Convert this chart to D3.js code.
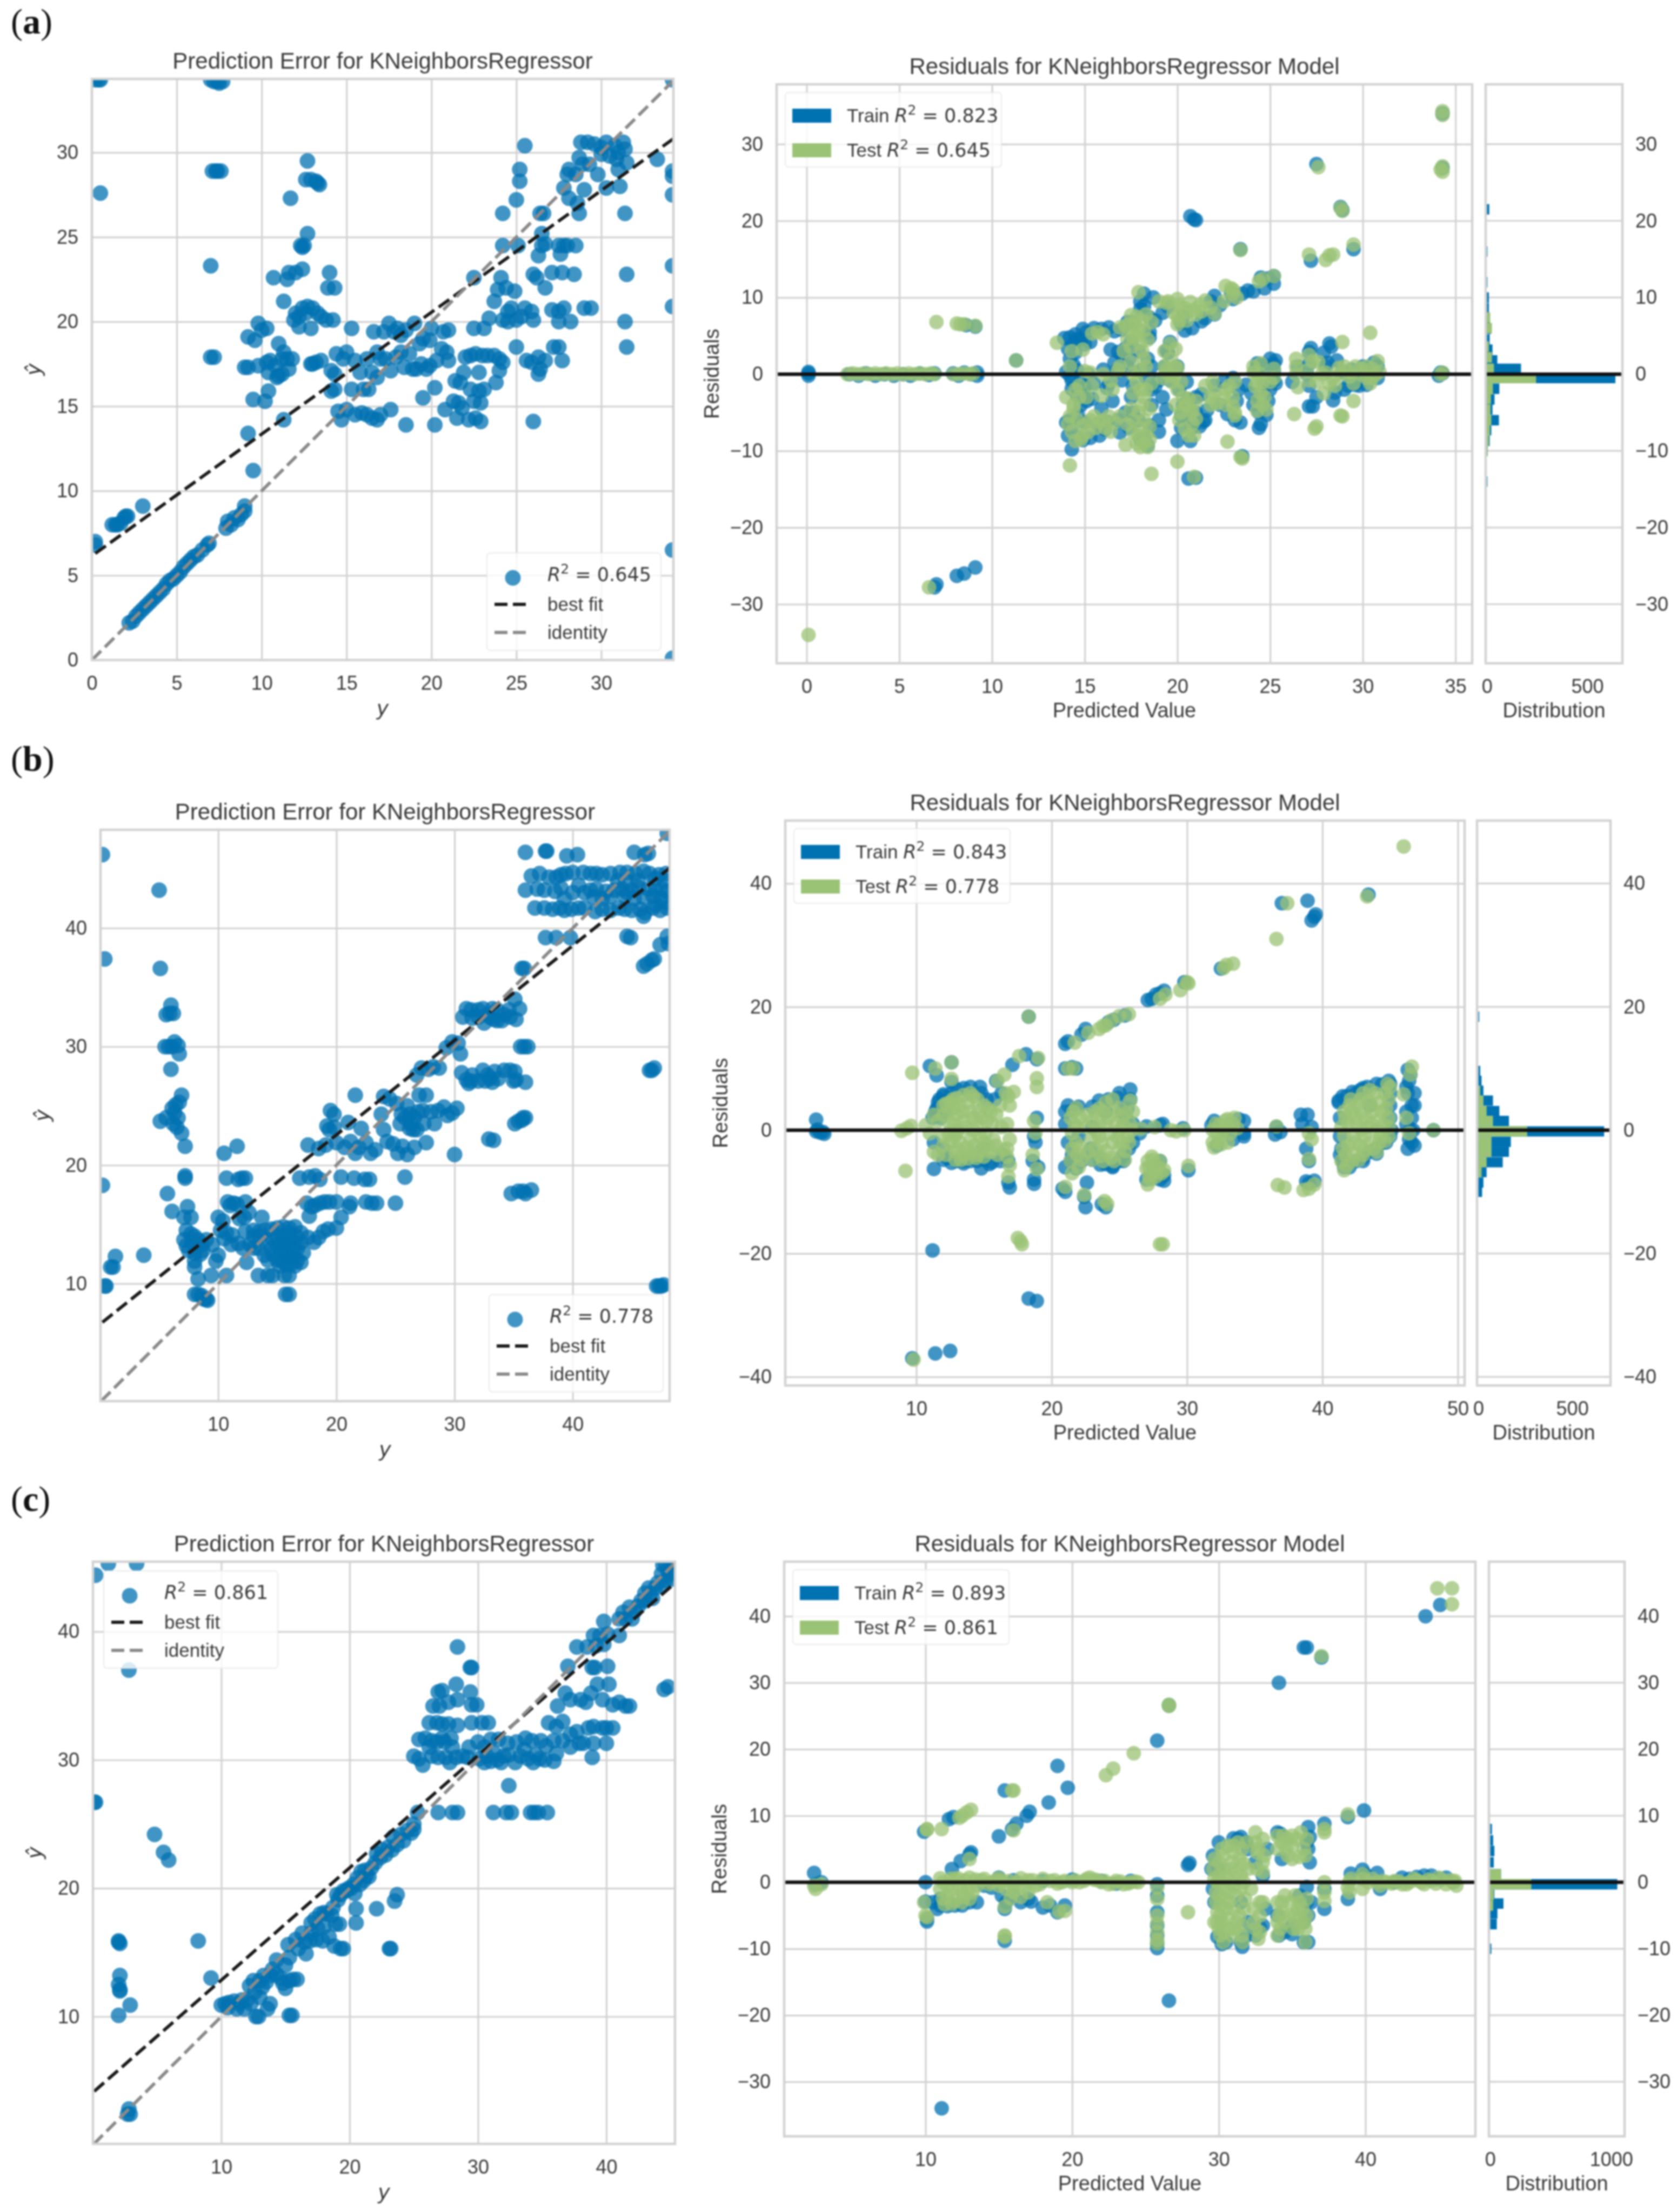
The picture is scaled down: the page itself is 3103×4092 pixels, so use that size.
<!DOCTYPE html>
<html>
<head>
<meta charset="utf-8">
<script src="https://cdn.jsdelivr.net/npm/d3@7"></script>
<style>
	body { margin: 0; background: #fff; }
	svg { display: block; filter: blur(1.5px); }
	text { font-family: "Liberation Sans", Arial, sans-serif; fill: #3a3a3a; }
	.math { font-family: "DejaVu Sans", sans-serif; }
</style>
</head>
<body>
<div id="chart"></div>
<script>
// ---- data: [y, y-hat] for prediction error, [predicted, residual] for residuals
var errorA = [[0.2,34.3],[0.4,34.3],[0.5,34.3],[7.0,34.3],[7.2,34.2],[7.4,34.2],[7.5,34.1],[7.7,34.2],[34.2,34.3],[0.5,27.6],[7.1,28.9],[7.3,28.9],[7.4,28.9],[7.6,28.9],[12.7,29.5],[12.6,28.4],[12.9,28.4],[13.2,28.3],[13.3,28.2],[13.4,28.1],[11.7,27.3],[12.7,25.2],[12.3,24.5],[12.5,24.5],[12.4,24.4],[7.0,23.3],[10.7,22.6],[11.5,22.5],[11.6,22.9],[12.0,22.9],[12.4,23.1],[14.0,22.9],[13.9,22.0],[14.3,22.0],[11.3,21.2],[12.0,20.5],[12.2,20.3],[12.4,20.8],[12.6,20.5],[12.7,20.9],[13.0,20.8],[13.3,20.5],[13.5,20.3],[13.8,20.1],[14.2,20.1],[11.9,20.1],[12.2,19.7],[12.9,19.6],[9.2,19.1],[9.6,18.9],[9.8,19.9],[10.0,19.5],[10.3,19.6],[7.0,17.9],[7.2,17.9],[9.0,17.3],[9.2,17.3],[9.8,17.4],[10.3,17.6],[10.5,17.7],[10.4,17.0],[10.8,17.4],[11.0,18.7],[11.3,18.2],[11.2,17.8],[11.5,17.8],[11.8,17.8],[11.0,16.8],[11.2,16.9],[11.6,17.2],[10.9,16.7],[13.0,17.5],[13.2,17.6],[13.5,17.7],[12.9,17.5],[9.5,15.4],[10.2,15.3],[10.4,15.9],[11.3,14.2],[9.2,13.4],[9.5,11.2],[14.1,17.1],[14.3,16.9],[14.4,18.1],[14.8,17.8],[15.0,18.2],[14.5,14.7],[14.7,14.2],[15.0,14.8],[14.1,15.9],[14.3,16.0],[15.3,19.6],[15.3,16.0],[15.5,17.7],[15.8,17.0],[16.0,16.0],[16.3,16.0],[16.5,17.0],[16.8,16.7],[16.2,17.8],[15.5,14.5],[15.9,14.6],[16.2,14.5],[16.5,14.3],[16.8,14.2],[17.0,14.5],[17.6,14.8],[16.6,19.4],[17.2,19.4],[17.5,19.9],[17.8,19.4],[18.0,19.6],[18.2,19.2],[18.5,19.5],[19.0,19.9],[19.5,19.0],[20.0,19.6],[19.3,18.7],[19.9,18.9],[16.8,18.2],[17.0,17.8],[17.3,17.8],[17.6,17.1],[17.9,17.9],[18.2,18.2],[18.4,17.3],[18.7,18.1],[18.9,17.2],[19.1,17.2],[19.4,17.5],[19.7,17.2],[19.9,17.4],[20.3,17.7],[20.6,18.4],[20.9,18.2],[21.0,17.7],[18.5,13.9],[19.5,15.5],[20.2,13.9],[20.2,16.1],[20.7,19.4],[21,19.5],[20.8,14.8],[21.5,14.3],[21.6,15.2],[21.3,15.3],[21.8,14.9],[21.4,16.5],[21.7,16.4],[22.0,17.9],[22.3,18.0],[22.6,18.1],[21.9,17.0],[22.5,19.6],[22.3,16.0],[22.5,15.3],[22.2,14.2],[22.6,14.3],[22.9,14.1],[22.8,15.9],[23.1,16.0],[22.8,17.0],[23.0,18.0],[23.3,18.0],[23.7,18.0],[24.0,17.8],[24.2,17.6],[24.0,17.1],[23.8,16.4],[22.9,15.2],[23.1,19.6],[23.4,20.2],[23.7,21.2],[23.9,21.9],[24.1,22.6],[24.4,22.0],[22.5,22.6],[24.2,20.1],[24.5,20.6],[24.5,20.0],[24.7,20.8],[25.0,20.1],[25.3,20.3],[25.5,20.8],[25.9,20.6],[26.0,20.1],[24.9,21.8],[24.2,24.5],[24.2,26.4],[25.0,27.2],[25.2,28.3],[25.2,29.0],[25.5,30.4],[25.1,24.5],[25.0,18.5],[25.6,17.7],[25.9,17.6],[26.3,17.9],[26.4,17.2],[26.3,16.9],[26.7,17.7],[26.0,14.1],[26.0,22.8],[26.2,22.6],[26.3,23.9],[26.5,24.5],[26.7,24.6],[26.5,25.2],[26.4,26.4],[26.6,26.4],[26.7,22.0],[27.1,22.9],[27.7,22.9],[27.5,24.5],[27.8,24.5],[28.0,24.5],[28.5,24.5],[27.6,24.0],[28.4,22.8],[27.1,20.7],[27.5,20.6],[27.8,20.8],[27.5,20.0],[28.2,20.0],[27.2,18.5],[27.5,18.5],[27.7,17.7],[27.8,27.9],[28.1,27.3],[28.6,27.0],[28.7,26.4],[29.0,27.8],[28.5,28.7],[28.0,28.7],[28.1,29.0],[28.7,29.7],[28.9,29.3],[29.3,29.3],[28.8,30.6],[29.2,30.6],[29.6,30.5],[30.0,30.3],[30.3,30.6],[30.0,29.9],[30.8,30.4],[31.0,30.0],[31.3,30.6],[31.4,30.2],[30.5,29.8],[30.9,29.6],[31.0,29.0],[31.5,29.4],[31.1,28.0],[29.8,28.7],[30.3,27.9],[31.4,26.4],[31.5,22.8],[31.4,20.0],[31.5,18.5],[29.0,20.8],[29.4,20.8],[33.3,29.6],[34.2,28.9],[34.2,28.6],[34.2,27.5],[34.2,23.3],[34.2,20.9],[34.2,6.5],[34.2,0.1],[0.2,7.0],[0.2,6.8],[1.2,8.0],[1.4,8.0],[1.5,8.0],[1.7,8.1],[1.9,8.4],[2.0,8.5],[2.1,8.5],[3.0,9.1],[2.2,2.2],[2.4,2.3],[2.6,2.6],[2.8,2.8],[3.0,3.0],[3.2,3.2],[3.4,3.4],[3.6,3.6],[3.8,3.8],[4.0,4.0],[4.2,4.2],[4.4,4.5],[4.6,4.7],[4.8,4.8],[5.0,5.0],[5.2,5.2],[5.4,5.5],[5.6,5.7],[5.8,5.9],[6.0,6.1],[6.2,6.2],[6.5,6.5],[6.8,6.8],[6.9,6.9],[7.9,7.8],[8.0,8.2],[8.2,8.0],[8.4,8.4],[8.6,8.3],[8.8,8.6],[9.0,8.8],[9.0,9.1]];
var errorB = [[36,46.4],[37.7,46.5],[37.8,46.5],[39.5,46.1],[40.4,46.2],[45.2,46.4],[46.1,46.2],[46.4,46.3],[36.5,44.4],[37.2,44.6],[38,44.3],[38.6,44.3],[39,44.5],[39.4,44.6],[40,44.7],[40.9,44.7],[41.5,44.6],[42,44.6],[42.5,44.5],[43.2,44.6],[44,44.7],[44.6,44.7],[45.3,44.6],[46,44.8],[46.5,44.6],[47.3,44.5],[47.9,44.6],[36,43.2],[37,43.3],[37.6,43.2],[38.5,43.1],[39,43.4],[41.5,43.2],[42,43.3],[42.8,43.1],[43.5,43.2],[44.2,43.3],[45,43.2],[45.6,43.4],[46.4,43.3],[47,43.2],[47.6,43.3],[48,43.1],[39.3,42.5],[41.8,42.6],[42.5,42.5],[43.2,42.7],[44.4,42.7],[45.2,42.5],[46,42.6],[46.8,42.7],[47.5,42.5],[36.8,41.7],[37.6,41.7],[38.3,41.6],[38.9,41.7],[39.3,41.5],[39.9,41.6],[40.5,41.7],[41,41.7],[41.9,41.4],[42.5,41.6],[43.2,41.5],[43.9,41.7],[44.4,41.6],[45,41.5],[45.7,41.6],[46.1,41.3],[46.8,41.7],[47.4,41.5],[48,41.7],[37.7,39.2],[38.6,39.2],[39.8,39.2],[44.6,39.3],[44.9,39.2],[47.4,38.6],[48,39.3],[48.1,38.7],[46,36.8],[46.3,37],[46.7,37.3],[46.9,37.4],[35.7,36.6],[35.9,36.6],[46.5,28],[46.7,28],[46.9,28.2],[47.1,9.8],[47.3,9.8],[47.5,9.8],[47.7,9.9],[48,48],[0.2,46.2],[5,43.2],[0.4,37.4],[5.1,36.6],[6,33.5],[5.6,32.7],[5.9,32.8],[6.2,32.8],[5.5,30],[5.8,30],[6.1,30],[6.3,30.4],[6.6,30.1],[6.7,29.4],[6,28.1],[5.1,23.7],[5.6,24],[6.1,24.8],[6.4,25.1],[6.7,25.3],[6.9,25.9],[6.3,24.4],[6.6,24],[6.2,23.5],[6.5,23.2],[6.9,22.7],[7.2,21.6],[7.2,19.1],[7.2,18.9],[5.7,17.6],[6.1,16.1],[7.4,16.5],[7.1,15.6],[7.7,15.6],[7.3,14.5],[7.7,14.2],[8,14],[8.3,13.7],[7.1,13.7],[7.3,13.2],[7.5,12.8],[8,12.6],[8.6,13.3],[9,13.7],[8.5,12.5],[8,11.9],[8,11.4],[8.3,10.4],[9.4,10.7],[10.7,10.7],[9.8,11.9],[10,12.4],[8,9.1],[8.3,9.1],[8.6,9],[8.8,8.7],[9,8.7],[9.1,8.6],[0.2,18.3],[1.3,12.3],[0.9,11.4],[1.1,11.4],[0.4,9.8],[0.5,9.8],[3.7,12.4],[10.5,21],[11.6,21.6],[10.7,18.9],[11.7,18.8],[12,18.9],[12.3,18.9],[10.8,16.9],[11,16.6],[11.3,16.8],[11.6,16.7],[12.3,16.9],[10,15.6],[10.4,15.3],[10.2,14.5],[10.7,14.3],[11.2,14.1],[11.8,15.5],[12.2,15.6],[12.6,16],[13.7,15.6],[12.3,14.4],[13,14.5],[13.5,14.4],[14,14.5],[14.5,14.6],[15,14.7],[15.5,14.8],[16,14.7],[16.5,14.8],[17,14.3],[11.1,13.3],[11.7,13.4],[12.1,13],[12.4,11.8],[12.7,13.3],[13,13],[13.4,13],[13.9,12.4],[14.2,12],[14.6,13.8],[15,13.2],[15.3,12.8],[15.6,13.4],[16,13.6],[16.4,13.3],[16.7,13],[15,12],[15.4,11.9],[15.9,12.3],[16.3,12.2],[16.7,12],[17,13.5],[17.6,13.9],[18.1,13.5],[18.5,13.9],[18.9,14.4],[19.3,14.6],[20,14.7],[20.4,15.6],[17.7,15.7],[17.9,16.5],[13.4,10.7],[14.2,10.7],[14.6,10.7],[15.6,10.7],[16,10.7],[15.7,9.1],[16,9.1],[16.9,18.9],[17.7,19],[18.2,19.1],[18.6,18.8],[17.5,16.8],[18.2,16.6],[18.6,16.8],[19,16.9],[19.4,16.9],[20,16.9],[20.4,19],[21.2,16.8],[21.1,16.5],[21.5,18.9],[22.4,18.8],[22.8,18.8],[22.5,16.9],[23,16.8],[23.4,16.8],[25,16.8],[25.8,19],[17.6,21.7],[18.5,21.4],[19.1,21.7],[19.5,24.6],[19.8,24.3],[19.2,23.3],[19.4,23],[19.8,23.2],[20,21.9],[20.7,21.5],[21.6,25.9],[21,23.6],[21.2,22],[21.6,21],[21.9,21.5],[22.1,23.1],[22.5,21.9],[22.9,21],[23.3,21.3],[23.8,24.3],[24,23],[24.3,22],[24.8,21.8],[25.2,21],[25.6,21.6],[26,20.9],[26.6,21.5],[27.6,21.9],[24,25.8],[24.5,25.6],[25.1,25.2],[25.5,24.3],[26,25],[26.3,23.5],[26.6,24],[27,25.9],[27.3,24.6],[27.6,25.9],[28,24.5],[28.3,23.5],[28.6,24.6],[26.2,23.1],[26.8,23],[29.1,24.9],[29.4,24.2],[29.8,24.4],[30.2,24.8],[26.8,27.6],[27.2,28.2],[27.8,28.1],[28.2,28.3],[28.7,28.2],[29.3,29.9],[29.8,30.4],[30.3,30.3],[30.5,29.4],[30,20.9],[32.9,22.2],[33.3,22.1],[30.7,32.5],[31,33.2],[31.4,33.1],[32,33.1],[32.4,33.2],[32.8,32.7],[33.2,33.2],[33.6,33.1],[33.3,32.3],[34.2,32.7],[34.6,33.1],[35.1,34],[35.5,33.2],[35.2,32.3],[34.7,32.5],[33,32.5],[30.6,27.8],[31,27.2],[31.4,27.1],[32,27.1],[32.4,28],[32.6,27.1],[33,27.3],[33.4,27.9],[33.7,27.3],[34.2,28],[34.7,28],[35.1,27.9],[35,27.1],[35.2,27.2],[36,27],[35.6,30],[35.9,30],[36.2,30],[35.1,23.5],[35.4,23.7],[35.7,23.8],[35.8,24],[36,24],[34.8,17.6],[35.4,17.8],[35.8,17.8],[36,17.6],[36.5,17.9]];
var errorDenseB = [[13,14],[13.5,14],[14,13.6],[14.5,13],[15,14],[15.5,14],[16,14.3],[16.3,12.8],[14.6,12.5],[15.3,13.5],[15.7,12.7],[16.6,14],[17.2,12.6],[17,11.8],[16.5,11.5],[15.2,11.5],[15.8,11.6],[16.2,11.7],[9.5,13.3],[10.5,13.8],[8.7,12.8],[7.8,13.5],[41,43],[40.5,43.6],[40,43],[43.8,44],[44.5,44],[44.6,43],[45.5,44],[47,44.2],[46,41],[47,42],[47.8,44],[47.9,42.2],[26.5,23],[26.9,24.5],[27.4,23.5],[25.8,24],[26.2,24.3],[25.4,23.5],[31.5,32.4],[32,32.5],[32.5,32],[33.6,32.2],[34,32.2],[31.5,27.6],[32.8,27.6],[33.2,27],[31.2,26.9]];
var errorC = [[0.2,44.4],[1.2,45.3],[3.4,45.3],[2.8,37],[0.2,26.7],[0.1,26.7],[4.8,24.2],[5.5,22.8],[5.9,22.2],[2,15.8],[2,15.9],[2.1,15.7],[2.1,13.2],[2,12.5],[2.1,12.1],[2.1,12],[2,10.1],[2.9,10.9],[2.8,2.8],[2.7,2.4],[2.9,2.4],[8.2,15.9],[9.2,13],[10,10.9],[10.3,11],[10.6,11.1],[11,11.2],[11.4,11],[11.8,10.6],[12,11.3],[12.2,12.4],[12.5,12.8],[12.7,10],[12.9,10],[13,12.8],[13.3,13.2],[13.6,10.6],[13.8,11],[14,13.7],[14.3,14.4],[14.6,13],[14.8,12.6],[15,12.2],[15.3,12.8],[15.6,12.9],[15.9,12.9],[15.3,10.1],[15.5,10.1],[15.2,15.6],[15.8,16],[16.3,16.5],[16.6,14.9],[16.9,15.9],[17,17.3],[17.3,17.6],[17.7,18],[18,18.1],[17.4,16],[17.9,15.9],[18.4,16.2],[18.8,15.5],[18.9,17.2],[19.2,17.2],[19.3,15.3],[19.5,15.3],[18.7,18.5],[19,19.5],[19.5,19.8],[19.9,20],[20.3,20.3],[20.6,20.8],[20.9,21.3],[21.3,21],[21.7,21.6],[22.1,22.7],[22.5,23],[23,23.2],[23.4,24],[24,24.2],[24.5,24.5],[25,25],[20.5,18.4],[20.5,17.3],[22.1,18.4],[23.1,15.3],[23.2,15.3],[23.5,19],[23.7,19.5],[25.3,25.9],[26.9,25.9],[28,25.9],[28.4,25.9],[31.2,25.9],[32.2,25.9],[32.6,25.9],[34.1,25.9],[34.4,25.9],[34.7,25.9],[35.4,25.9],[32.4,28],[28.4,38.8],[29.4,37.2],[29.5,37.2],[26.9,35.3],[27.2,35.4],[26.5,34.2],[27,34.2],[27.7,34.5],[28.3,35.9],[28.4,34.7],[29.4,35.3],[29.5,34.3],[29.9,34.3],[26.2,32.9],[26.8,32.9],[27.2,32.8],[27.7,32.8],[28.4,32.7],[29.5,32.9],[30.3,32.9],[30.8,32.9],[25.4,31.6],[25.9,31.7],[26.4,31.5],[26.8,31.4],[27.4,31.4],[27.9,31.7],[29.3,31],[30,31.4],[30.5,31],[31,31.6],[31.6,31.6],[32.3,31.3],[33,31.4],[33.7,31.7],[34.2,31.5],[34.9,31.5],[35.3,31.1],[35.9,31.5],[25,30.3],[25.4,30.1],[25.7,29.6],[26.9,30.2],[27.5,30.2],[27.8,29.8],[28.3,30.2],[29.2,30.2],[30.1,30.1],[30.5,29.8],[31,29.9],[31.5,30],[31.8,29.8],[32.4,30.4],[32.9,29.8],[33.3,30.3],[33.9,30.1],[34.3,29.8],[34.8,30.1],[35.2,30],[35.9,29.9],[36.1,30.5],[35.5,32.9],[36.1,32.6],[36.6,33],[37.2,32],[37.7,32.2],[38.2,31.3],[38.6,32.5],[39,32.6],[39.7,32.5],[40,32.5],[40.5,32.5],[39,31.3],[40,31.3],[38.9,30.2],[36.6,31.5],[37.2,31],[37.9,31.3],[36.2,34.2],[36.8,35.2],[37.2,34.7],[38,34.7],[38.4,34.5],[38.8,35.2],[39.3,35.9],[39.7,34.7],[40.2,35.9],[40.5,34.3],[41,34.5],[41.5,34.2],[41.8,34.2],[37,37.3],[38.9,37.2],[39.1,37.2],[40.1,37.3],[37.7,38.8],[38.5,38.8],[39,39.7],[39.5,39.7],[39.2,38.9],[39.8,39],[40.1,39.8],[39.8,40.8],[41,39.7],[41,41],[41.3,41.5],[41.8,41.9],[42,41],[42.5,42],[43,43],[43.3,43.4],[43.6,42.6],[44,43.8],[44.3,44.5],[44.8,44.8],[45,45.2],[45.2,44.6],[44.6,45.3],[45.1,44.1],[44.5,35.5],[44.8,35.7]];
var errorDenseC = [[10.5,10.7],[11.2,10.6],[11.6,11.3],[12.3,11],[12.6,11.9],[13,11.5],[13.2,12.3],[13.5,12.7],[13.8,13.2],[14.3,13.3],[15,14],[15.3,14.6],[16,15.3],[16.5,15.8],[17,16.5],[17.5,16.9],[18,17],[18.2,18],[18.6,17.9],[19.1,19.1],[19.3,19.5],[19.7,19.8],[20.1,20],[20.4,19.6],[20.8,20.3],[21.1,20.6],[21.5,20.9],[21.2,21.4],[22,22],[22.4,22.4],[22.8,22.6],[23.3,23],[23.7,23.4],[24.2,23.7],[24.8,24.3],[25,24.6],[41.5,41],[42.2,41.6],[42.7,42.4],[43,42.4],[43.4,42.9],[43.8,43.4],[44.3,43.6],[44.6,44],[44.9,44.5],[45.2,45.3],[44.4,45.2],[28,31],[28.8,30.3],[30.7,30.3],[31.3,30.5],[32,30.3],[33.6,30.8],[34.5,30.4],[26.4,30.3],[26.2,31],[27.2,31.7]];

var trainA = [[0.1,0.1],[0.1,-0.2],[0.1,0.3],[2.3,0],[2.8,-0.2],[3.2,0.1],[3.7,-0.2],[4.2,0],[4.7,-0.2],[5.2,0],[5.6,-0.2],[6.1,0.1],[6.6,-0.1],[6.9,0.1],[7.9,0.1],[8.2,-0.2],[8.5,0.2],[8.9,0],[9.2,0.2],[9.2,-0.2],[9.1,6.2],[8.6,6.4],[7.0,-27.4],[6.9,-27.8],[8.1,-26.3],[8.5,-26],[9.1,-25.2],[11.3,1.8],[20.7,20.6],[20.9,20.2],[21.0,20.1],[27.5,27.4],[28.8,21.8],[28.9,21.4],[23.4,16.3],[27.2,14.8],[29.5,16.3],[24.5,12.6],[24.9,12.5],[25.2,12.8],[25.2,11.8],[24.7,11.2],[24.1,10.8],[22.0,10.2],[22.9,10.6],[23.0,9.8],[18.2,10.5],[18.0,9.5],[13.9,4.7],[14.1,3.3],[14.4,4.0],[14.5,2.8],[14.6,4.6],[14.9,5.9],[15.0,3.9],[15.3,4.2],[15.5,6.0],[15.9,5.9],[16.3,6.1],[16.6,5.6],[17.0,5.8],[17.3,6.8],[17.6,6.8],[18.0,8.5],[18.2,8.9],[18.5,7.4],[18.8,7.0],[18.5,5.5],[16.4,3.2],[16.8,2.9],[17.2,3.4],[17.5,4.3],[18.5,4.8],[19.6,4.2],[19.5,2.8],[19.4,3.1],[20.8,6.0],[21.3,6.9],[21.5,7.3],[22.0,7.8],[20.4,5.7],[20.2,6.6],[14.0,0.3],[14.3,-0.8],[14.3,-1.9],[14.6,-2.8],[15,-1.6],[15.2,0],[15.5,-1.2],[15.4,-3.2],[16.0,0.6],[16.3,-1.2],[16.7,0.4],[17.0,-0.8],[17.3,1.0],[17.6,-1.5],[18,0.5],[18.3,-0.5],[18.6,-2],[18.6,-4],[19,-0.8],[19.3,1],[19.6,-0.8],[20,1],[20.3,-4],[20.6,-6],[21,-3],[20.8,-7],[21.3,-2.6],[21.4,-6.2],[22,-1.5],[22.5,-1],[23,-0.5],[23.3,-2],[23.2,-3.5],[24.2,0.5],[24.4,1],[24.7,-1.5],[24.5,-3.3],[24.5,-6.5],[24.4,-7.0],[24.1,-4],[25.2,1.3],[25.2,0.5],[25.3,-1.2],[27.1,2.9],[27.1,1.3],[27.1,-1.5],[27.1,-4.2],[27.3,-4.2],[27.9,2.8],[28.3,3.6],[28.1,1.5],[28.6,1.8],[28.9,0.3],[29.2,-1.5],[29.6,-1.4],[30.0,-0.6],[30.4,0.4],[30.8,1],[30.8,-0.5],[30.0,1.0],[14.0,-6.3],[14.1,-8],[14.3,-9.8],[14.9,-8.6],[15.0,-6.3],[15.8,-8],[16.2,-6.2],[16.8,-6],[17.4,-7],[18.0,-8.5],[18.2,-8.3],[18.4,-9.3],[19,-6],[20,-8.7],[20.2,-7],[20.2,-5.4],[20.7,-8.7],[21.5,-6],[17.6,-5],[17.5,-3],[20.6,-13.6],[21,-13.5],[23.5,-10.7],[34.2,0.2],[34.1,-0.2],[34.3,0.1],[34.3,26.9],[34.3,34.0]];
var trainDenseA = [[14.2,4.8],[14.5,5.2],[14.8,4.5],[15.1,5.5],[14.2,2],[14.4,1.2],[14.6,0.5],[14.8,-0.5],[14.2,-0.2],[14.9,-2.2],[15.1,-3.5],[14.8,-4],[14.6,-5.2],[14.2,-6],[14.3,-7],[14.6,-8.2],[15.3,-8.3],[15.7,-6.6],[16.1,-7.2],[15.9,-4.5],[16.5,-3.5],[16.2,-1.8],[16.6,1.5],[17,2.5],[17.4,2],[17.9,3],[18.4,2],[18.6,1],[18.8,-1.6],[19.2,-3],[19.4,-4.6],[19.0,-7.5],[18.5,-6.7],[17.9,-6],[17.2,-5],[16.9,-7.6],[20.1,-2],[20.5,-1],[20.6,-3.3],[21,-5],[21.2,-6.8],[21.6,-4.7],[22.3,-4],[22.7,-5.2],[23.1,-6],[23.4,-6.3],[23.7,-1.4],[24,-2.5],[24.4,-5],[24.8,-5.3],[24.9,-3.5],[25,-2],[24.3,1.4],[24.7,1.2],[25,2],[25.3,1.8],[25.2,-0.8],[26.2,-1],[26.5,1],[27.2,3.4],[27,0],[27.5,-3],[28,1],[28.5,-2.4],[29,-2],[29.4,0.6],[29.8,-1.5],[30.2,-1.4],[30.6,1.5],[28.2,4],[28.4,-3.4],[18.7,10],[19.2,8],[19.5,8.8],[20.3,7.5],[21.8,9.5],[22.3,9],[23.5,10.5],[23.8,10.9]];
var testA = [[0.1,-34],[34.3,34.3],[34.3,33.8],[34.3,27.1],[34.2,26.7],[34.3,26.4],[27.6,27],[28.9,21.3],[28.8,21.7],[23.4,16.2],[27.1,15.6],[28.0,14.9],[28.2,15.5],[28.4,15.6],[29.5,16.9],[6.6,-27.8],[7.0,6.8],[8.1,6.6],[8.3,6.5],[8.5,6.5],[9.1,6.3],[2.2,0],[2.5,0.1],[2.8,0],[3.1,0.1],[3.4,0],[3.7,0.1],[4,0],[4.3,0.1],[4.6,0],[4.9,0.1],[5.2,0],[5.5,0.1],[5.8,0],[6.1,0.1],[6.4,0],[6.7,0.1],[6.9,0],[7.9,0],[8.2,0],[8.5,0.1],[8.8,0],[9.0,0.1],[11.3,1.8],[13.5,4.1],[14.3,3],[15.4,5.3],[15.7,5.5],[16,5.2],[16.9,6.1],[17.2,6.3],[17.4,6.5],[17.5,7.7],[17.8,7.5],[18.1,7.0],[18.3,7.8],[17.9,10.7],[19,9.5],[19.4,9.3],[20,9.8],[19.8,8],[20,7.6],[20.5,8.1],[20.9,8.4],[21.2,9.0],[21.5,9.6],[22,7.9],[20.1,7],[22.6,11.5],[22.9,11.2],[23,10.5],[24.4,12.1],[24.6,12.4],[25.2,12.8],[17.8,5],[18.0,4],[18.1,3],[18.2,2],[18.3,1],[17.6,0],[17.8,-1],[18,-2],[18.2,-3],[18.1,-4],[17.9,-5],[18.2,-6],[18.0,-7],[18.3,-8],[18.5,-8.5],[17.8,-9],[18,-9.5],[18.4,-9.5],[17.2,-9.2],[19.3,3],[19.6,2],[19.9,1],[19.5,0],[19.7,-1],[20,-2],[20.3,-3],[20.5,-4],[20.2,-5],[20.7,-5],[20.8,-6.5],[20.9,-8],[21.0,-3.5],[14.7,-1.5],[14.7,-3],[14.4,-4.5],[14.1,-6.5],[14.3,-7.5],[14.5,-8.7],[14.9,-8],[15.3,-6],[15.6,-7],[16,-6],[16.4,-7.5],[16.9,-5.5],[17.3,-6.5],[16.5,-2],[16.8,0.5],[16,0],[15.3,0.2],[14.9,3.2],[14.2,1],[15.1,-3],[22,-2.5],[21.8,-3],[22.6,-4],[23,-3],[23.1,-5],[22.7,-8.8],[23.4,-10.8],[23.5,-11],[24.3,-1],[24.5,-2.5],[24.6,-4],[24.3,-3.5],[25.2,0.7],[25.2,-0.5],[24.1,1],[24.5,0],[21.9,-1],[14.2,-11.9],[18.6,-13],[20,-11.4],[20.9,-13.4],[26.3,-5.2],[27.5,-6.8],[27.4,-7.1],[28.8,-5.4],[28.9,-5.5],[29.5,-3.5],[30.4,5.4],[28.9,4.2],[26.4,2.0],[27.1,2.5],[26.4,0],[27,0.5],[27.5,-1],[28,0.2],[28.4,-0.5],[28.8,0],[29,1],[29.3,-0.3],[29.6,1],[29.9,0],[30.2,-0.5],[30.5,0.7],[30.8,1.7],[30.7,0],[28.5,-1.5],[27.9,-2.5],[34.2,0],[34.3,0.2]];
var testDenseA = [[14.0,-3],[14.5,-2],[14.4,-4],[14.6,-6],[14.2,-5.5],[14.9,-6.7],[14.8,-8.5],[15.2,-7.5],[15.5,-5.5],[15.8,-6.2],[16.1,-7],[16.3,-5.5],[16.6,-6.3],[15,0.4],[15.4,-1.5],[15.9,-2.8],[16.4,-0.8],[16.9,1],[17.1,3],[17.3,4.6],[17.5,3.5],[17.5,1.6],[17.6,-2.5],[17.5,-4.5],[17.6,-6],[17.6,-7.6],[17.9,-8],[18.2,-9],[18.5,-4.5],[18.6,-1.2],[18.4,4.5],[18.6,6.8],[18.2,5.7],[17.7,6.5],[17.9,5.8],[17.6,5],[18.0,0.5],[18.3,-2],[18.5,-6.8],[19.3,1],[19.2,-0.5],[19.4,0.5],[19.8,-0.3],[20,0.8],[19.9,3.3],[19.6,4],[20.2,-1],[20.4,-4.2],[20.6,-3.2],[20.1,-6],[20.4,-7.2],[20.8,-4.8],[21,-5.8],[20.6,-8],[19.9,-4],[21.5,-1.5],[21.8,-4],[22.1,-3.8],[22.5,-3],[22.6,-2],[22.8,-1.5],[23.1,-1],[23.0,-4.2],[23.1,-5.4],[24.2,-1.6],[24.6,-1],[24.7,-3],[24.3,-4.8],[24.8,-4.6],[25,-1],[24.1,0.2],[24.5,1.4],[20.4,8.6],[20.7,9.4],[21,7.8],[21.3,8.2],[21.8,8.7],[20.5,7],[19.5,9.5],[20.1,9],[20.0,6.5],[22.5,9.5],[23.2,10],[23,11],[27.6,1.6],[27.8,0],[28.2,-1.2],[28.7,0.8],[29.2,0.4],[29.5,-1.2],[29.9,0.7],[30.2,1],[30.5,-0.5],[30.9,0.3],[30.4,-1.2],[27.1,-0.8],[26.4,1],[26.5,-1.7],[27.3,1.7]];

var trainB = [[2.6,-0.2],[2.6,1.7],[2.9,-0.4],[3.1,-0.3],[3.2,-0.6],[2.7,0.1],[9.7,-37],[11.4,-36.2],[12.5,-35.8],[11.2,-19.5],[18.3,-27.3],[18.9,-27.7],[18.3,18.4],[38.9,37.2],[37.0,36.8],[39.2,34.0],[39.4,34.6],[39.5,35],[43.4,38.2],[32.5,26.2],[27.1,21.1],[27.4,21.3],[27.7,22],[28,22.2],[28.3,22.6],[29.8,24],[21.0,14],[21.2,14.4],[22.2,15.5],[22.5,16.4],[24.2,17.5],[24.6,17.9],[25.4,18.6],[18.1,12.3],[17.1,10.6],[15.9,8],[14.7,7],[18.9,11.5],[21,10],[21.5,10.2],[21.8,10],[11,10.4],[11.5,8.9],[12.6,7.8],[12.6,11],[11.7,5],[12,5.5],[11.4,3],[11.2,2],[11.3,-2],[11.6,4.5],[12,5.8],[12.2,3],[12,-3],[12.3,-4.5],[13,-5],[13.5,-5],[14,-5],[14.5,-5],[15,-4.8],[15.6,-5.2],[14.8,-6.2],[16.8,-8.5],[16.9,-9.3],[11.3,-6.3],[16.4,-4],[16.8,-5],[18.7,-8],[18.7,-8.7],[18.6,-5],[18.8,-2],[18.7,-1],[19,-6],[18.9,2],[20.8,-9.5],[21,-10],[22.6,-8.5],[22.4,-10.8],[22.5,-12.5],[23.7,-12],[24,-12.5],[21,1],[21,3],[21.2,-2],[21.5,-4],[21.8,3.5],[22,-1],[22.2,-5],[23,0.5],[23.5,-4.5],[24,-5.5],[24.5,-5.8],[25,-5],[25.2,3],[25.5,2],[25.8,6.6],[25.8,5],[24.9,5.2],[25.3,-4],[24,3],[22.9,-3],[27.5,-6],[28,-8],[28.3,-7.3],[28,-5],[27,-8],[26.5,-0.5],[27,0.6],[28,0.8],[28.2,1],[29.7,0.3],[30.1,-6.5],[31.8,0.8],[32.2,-2.5],[32,1.5],[32.8,0],[33.2,1],[33.8,1.8],[34.2,1.5],[34.2,-0.5],[34.2,-1],[33.4,-1.5],[36.5,-0.7],[36.6,0.5],[36.9,-0.3],[38.4,2.5],[38.5,1],[38.9,2.5],[38.8,-3],[39,-5],[38.8,-8.3],[39,-8.6],[39.4,-8.2],[39.2,0.5],[41.2,4.5],[41.3,2],[41.4,-3],[41.6,-6],[42,-6],[42.5,-5],[43,-4.5],[43.5,-3.5],[44,-3],[44.5,-2],[41.8,5.5],[42.5,6],[43,6.8],[44,7.5],[44.9,8],[45,6],[45,2],[45,-1],[43.5,4],[46.3,9.8],[46.5,9],[46.3,6],[46.6,4],[46.6,2],[46.5,0],[46.4,-1.5],[46.6,-2],[48.2,0]];
var trainDenseB = [[11.5,3.5],[11.8,2],[12,-4.8],[12.6,6],[13,6.6],[13.5,6.8],[14,7],[14.8,6],[15.2,5],[15.8,5],[16.3,6],[14.9,-3],[15.4,-5.5],[16.2,-5],[13.5,-5.4],[12.6,-5.3],[21.2,4],[21.5,3.2],[22,3.8],[21.4,-5],[21,-6],[21.8,-6.2],[23,3.8],[23.5,4.8],[24.2,5],[25,6],[25.6,3.5],[23,-4.8],[23.6,-5.6],[24.5,-6],[25.3,-5],[25.7,-3],[26,1],[26,-2],[27.3,-7.8],[27.8,-7],[28.3,-8.2],[41.2,4.8],[41.5,5.5],[41.3,-1],[41.3,-4],[41.5,-5],[42.2,6.2],[42.8,6.5],[43.3,7],[44.4,7.4],[45,7.5],[45,4],[45.1,0],[44.7,-2],[43,-5],[44,-3.8],[46.2,7],[46.4,8],[46.2,3],[46.2,1],[46.3,-3],[46.8,-2.5],[46.7,0],[46.8,4],[46.8,6]];
var testB = [[46.0,46],[43.3,37.9],[37.4,36.8],[36.6,31],[33.4,27],[32.9,26.8],[32.7,26.3],[30,24],[30.1,23.8],[29.5,22.7],[28.4,22],[28.0,21.3],[18.3,18.4],[25.7,18.8],[25,18.5],[24.4,17.8],[24,17],[23.8,16.9],[23.5,16.4],[22.7,15.8],[21.7,14.2],[21.2,10],[21.6,10],[17.6,12],[19,11.7],[18.9,8.4],[18.9,7],[17.5,-17.5],[17.7,-18],[17.8,-18.5],[28,-18.5],[28.2,-18.5],[9.8,-37.2],[12.6,11],[11.4,10],[9.7,9.3],[12.6,8.3],[9.2,-6.6],[46.6,10.3],[46.5,9],[46,5.8],[48.2,0],[8.9,-0.1],[9.3,0.3],[9.6,0.7],[10.7,0.8],[11,-0.5],[13,-0.5],[11.3,2.5],[11.3,-3.5],[11.6,-4],[12,4],[12.5,4.5],[13,5.2],[13.5,5.7],[14,6],[14.5,5],[15,4],[15.5,3],[16,8],[16.5,9],[16.8,5.5],[17.2,6.2],[16.9,4],[12,-1],[12.5,-2],[13,-3],[13.5,-4],[14,-3.5],[14.5,-4],[15,-2],[15.5,-3.5],[16,-4],[16.7,-3],[16.9,-5.7],[16.8,-7.5],[12.5,1],[13,2.5],[13.5,1.5],[14,3],[14.5,1],[15.2,1.5],[13,0],[14,-1.5],[18.7,1.5],[18.8,-0.5],[18.6,-4],[18.9,-6.3],[21,-9.2],[21.5,-7],[21.6,3],[21.7,1],[21.8,-2],[21.9,-4],[22,-6],[22.4,-10.5],[23.9,-11.5],[24.1,-12],[23,1.5],[23.5,3.5],[24,4.5],[24.5,5],[25.2,2],[25.8,1],[25.6,-1],[25,-3],[24.4,-4.5],[23.8,-5],[23.2,-3],[22.9,-1.5],[23.5,-1],[24,1],[25,0],[25.8,4.8],[26,3],[26.6,0.2],[27.2,-6],[27.2,-7.5],[27.6,-6.5],[28,-5],[28.3,-6.5],[27.4,-4.3],[27.1,-8.8],[28.8,0],[29.2,-0.2],[29.8,0],[30.1,-5.8],[27.6,0.5],[31.9,-2],[32.2,-0.5],[32.4,0.8],[32.8,1.5],[33.2,-0.5],[33.5,2],[33,-2],[32.5,-2.3],[32,-2.8],[36.6,0.6],[36.7,-8.9],[37.2,-9.3],[38.6,-9.7],[39,-9.5],[39.4,-8.8],[39,-0.5],[39,-4.7],[39.2,-1.5],[41.6,-6.5],[41.7,-4],[41.6,-1],[41.7,2],[42,4],[42.2,-5],[42.4,-2],[42.5,1],[42.8,5],[43,-4],[43.1,-1],[43.2,2],[43.5,6.5],[43.6,4],[43.8,-3],[44,0],[44.2,-2],[44.4,3],[44.8,7.5],[44.9,5],[44.9,2],[44.9,-1],[42.9,0],[42.2,3],[46.2,2],[46.4,-0.5]];
var testDenseB = [[11.6,1.5],[12,2.5],[12,-2.5],[12.2,-4],[12.2,4.3],[12.4,3],[12.4,-0.5],[12.7,5],[12.8,3.5],[12.8,1],[12.8,-1],[12.9,-3.5],[12.9,-4.8],[13.2,4],[13.2,-2],[13.3,-4.8],[13.4,3],[13.6,0.5],[13.7,-2.8],[13.8,-4.6],[13.8,4.5],[14.2,5.5],[14.2,2],[14.2,0],[14.3,-2.5],[14.4,-4.5],[14.6,3],[14.7,-1],[14.8,2],[14.8,-3.2],[15.1,-0.5],[15,-4.3],[15.3,3.5],[15.3,-2.5],[15.6,1],[15.7,-1.5],[15.9,2.5],[15.9,-2.5],[16.2,4],[16.3,0.5],[16.4,-3.2],[16.6,6],[16.7,-4.3],[16.7,1],[16.9,-1.5],[21.4,2],[21.5,-0.5],[21.5,-3],[21.4,-5],[21.8,3.6],[21.9,0.5],[22.1,2],[22.1,-2.8],[22.2,-4.8],[22.5,0.5],[22.6,2.5],[22.7,-3.5],[23,-4.8],[23.2,3],[23.3,-0.2],[23.5,1],[23.6,-4.2],[23.7,-2.2],[23.8,3],[24,-3.4],[24.2,2],[24.3,-0.5],[24.5,-2],[24.6,3],[24.6,-5],[24.8,1],[24.9,-1.2],[25,3.5],[25.2,-2],[25.3,0.8],[25.4,-3.4],[25.5,2.8],[25.7,-2],[25.9,0],[25.4,-4.8],[27,-6.2],[27.1,-5],[27.3,-8],[27.5,-4.8],[27.7,-7.5],[27.9,-6],[28.1,-7],[41.4,-5],[41.5,-3],[41.4,0.5],[41.6,3],[41.8,-5.8],[41.9,-2.5],[41.9,1],[42.1,5],[42.3,-3.8],[42.3,-0.8],[42.4,2],[42.6,4],[42.7,-4.8],[42.8,-2.5],[42.9,2.8],[43,6],[43.1,-3.3],[43.3,0.5],[43.4,4.8],[43.5,-2],[43.6,1],[43.7,3],[43.9,6],[44,-3.5],[44.1,1.6],[44.2,4.5],[44.3,-1],[44.5,0.8],[44.6,6],[44.6,-1.8],[44.7,3.5],[44.9,0.5],[45,7],[32.3,-2],[32.6,-0.2],[33,0.5],[33.4,1],[33.7,0.3],[32.1,1],[31.9,0],[33,1.8]];

var trainC = [[2.4,1.4],[2.5,-0.3],[2.9,0],[9.9,7.6],[10,0],[10,-2.9],[10.1,-5.5],[10.1,-5.9],[10.8,-4],[11.6,9.5],[11.9,9.8],[11.8,2],[12.4,3.2],[13,4.2],[13.1,4.5],[15,6.9],[15.4,13.8],[15.9,8],[16.2,8.8],[16.9,10],[17.1,10.6],[18.4,12],[19,17.5],[19.7,14.2],[25.8,21.3],[26.6,26.6],[34.1,30],[35.8,35.3],[36,35.3],[37,33.8],[44.1,40],[45.1,41.7],[11.1,-34],[26.6,-17.8],[28,2.9],[27.9,2.6],[25.8,-0.3],[25.8,-2],[25.8,-4.5],[25.8,-6.5],[25.8,-8],[25.8,-9.9],[15.4,-8.8],[15.4,-4],[19.5,-3.5],[18.5,-3.5],[17,-2.5],[15.2,-2],[13,-3],[11,-3.5],[12,-3.5],[14,-0.5],[16,0.3],[18,0.2],[20,0.4],[22,0.2],[23,-0.2],[24,0.2],[29.6,4],[30,6],[30,2],[29.7,-3],[30.2,-8.5],[30.2,-9.3],[31.5,-9],[31.6,-9.7],[31.3,6.5],[31.9,6],[32,-6],[31.5,-3],[33,-6.5],[32.5,3],[34,7.5],[34.1,-8],[34.3,3.5],[35,-6.5],[35.5,-2],[35.8,-9],[36.1,-9],[36,6],[36.1,8.3],[36,-0.7],[36,-3],[37.2,8.8],[37.2,-4],[37.2,-1],[38.8,9.8],[39,1.3],[38.8,-2.5],[39.8,1.9],[39.9,10.8],[40,1.2],[40.8,1.4],[41,-1],[42,0],[43,0.5],[44,1],[45,0.5],[46,0]];
var trainDenseC = [[29.5,2],[29.6,-1],[29.9,-8.2],[30.5,-9],[31,6.6],[31.5,6.8],[32,5],[31.9,-8],[32.5,-8],[32.8,-6.8],[33,1],[33.2,-4],[33.3,5],[34,-5],[34.2,7.3],[34.5,-7.5],[35,-7.8],[35.8,-6],[36.1,5],[36.2,6.8],[36.2,3],[36.1,-5],[36.3,-3],[11,-2.5],[10.5,-3],[11.5,-3.6],[12.5,-3.5],[13.5,-3],[14.5,-0.8],[15,0.7],[15.5,-3],[16,-2],[16.5,-3],[17.2,-2.9],[18,-3.8],[19,-4.5],[25.8,-9.2],[42.5,0.7],[43.5,0.8],[44.5,1],[45.5,0.7]];
var testC = [[44.9,44.2],[45.9,44.2],[45.9,41.8],[37,34],[26.6,26.7],[26.6,26.5],[22.3,16.1],[22.8,17.1],[24.2,19.4],[15.9,13.8],[16,13.8],[11.1,8],[10.1,8],[10.1,7.9],[12.3,9.7],[12.5,10],[12.8,10.5],[13.1,10.9],[16,7.8],[13,3.5],[27.9,-4.5],[15.4,-8],[15.4,-8.2],[10.1,-5.3],[10,-5],[9.9,-3],[2.4,-0.5],[2.5,-1],[2.9,-0.3],[11,0.6],[11.5,-0.5],[12,0.5],[12.5,-1.5],[11.2,-2.5],[11.8,-3.2],[12.5,-3],[13,-2.5],[13.5,-0.5],[14,0.5],[14.5,0],[15,0.6],[15.5,-1],[15.4,-3.7],[16,-0.4],[16.5,0.6],[17,0.3],[17.5,-0.5],[18,0.5],[18.5,0.2],[19,-0.2],[19.5,0.2],[20,0],[20.5,0],[21,0.5],[21.5,0.4],[22,0],[22.5,-0.3],[23,0.2],[23.5,-0.3],[24,0],[24.5,0],[18.3,-3],[19.1,-4.4],[19.5,-4.3],[17,-1.5],[25.8,-0.8],[25.8,-2.5],[25.8,-5],[25.8,-6.2],[25.8,-7.5],[25.8,-8.7],[25.8,-9.2],[29.7,3.5],[29.9,0],[29.8,-3],[29.9,-6],[30,-7],[30.1,-5],[30.2,5],[30.3,2],[30.4,-1],[30.5,-4],[30.3,-9],[30.7,-7],[30.8,0],[30.9,3],[31,5.5],[31.2,-2],[31.2,-6],[31.6,-8],[31.5,1],[31.6,5],[31.7,-4],[31.9,6],[32,2],[32.2,-1],[32.5,7.5],[32.6,4.5],[32.8,-5],[32.7,-8.5],[33,3],[33,-3],[34,-8],[34.1,-5],[34.3,6],[34.6,5],[34.3,-3],[35,7],[35.2,-5],[35.4,-7],[35.5,-3],[35.8,-6],[35.9,-9],[35.9,4],[36,6.5],[35,3.5],[37.2,8],[37.2,7.5],[37.2,-1.5],[37.2,-2.8],[37.2,0],[38.8,10.2],[38.9,0],[38.9,-1.5],[39.8,-1],[39.8,0.5],[40.8,0],[41,-0.5],[41.5,0],[42,0.2],[42.5,-0.3],[43,0],[43.5,0.3],[44,-0.3],[44.5,0.2],[45,0.7],[45.5,-0.3],[46,0],[46.2,-0.5]];
var testDenseC = [[29.6,2],[29.7,0.5],[29.8,-1.5],[29.9,-4.5],[29.7,-6],[30,3],[30,1],[30,-2],[30.1,-3.5],[30.1,-8],[30.2,0],[30.2,-6],[30.3,4],[30.4,-2.5],[30.4,-7.5],[30.5,1],[30.6,-5.5],[30.6,5.5],[30.7,-3],[30.7,-1.5],[30.8,2],[30.9,-8],[31,-4],[31,-0.5],[31,4.5],[31.1,-7],[31.2,1.5],[31.3,6],[31.4,-5],[31.4,3.5],[31.5,-1],[31.6,-6.5],[31.6,-9],[31.7,0],[31.7,2.8],[31.8,-2.5],[32.4,-4],[32.4,-6],[32.5,-7],[32.5,6],[32.6,2],[32.7,5],[32.8,-3],[32.8,-7.5],[33,6.5],[33,1.5],[33.1,4],[34,-6],[34,-3],[34,5],[34,7],[34.2,-7],[34.3,-4.5],[34.4,7],[34.5,-6],[34.5,-2],[34.7,4],[34.7,6.5],[34.8,-5],[34.9,-3],[35,5.5],[35.1,-7],[35.2,-2],[35.3,6.5],[35.4,-4],[35.5,3.8],[35.5,-5.5],[35.6,7.5],[35.7,-4],[35.8,5],[35.9,-7],[36,-2.5],[36,-5],[11,-1],[11.2,0],[11.3,-3.3],[11.5,-2],[11.7,0.5],[11.8,-1],[12,-2.8],[12.2,0.6],[12.3,-0.8],[12.6,-2.2],[12.7,0.3],[12.9,-1],[13,0.7],[13.2,-1.5],[13.4,0.4],[13.8,0.3],[14.3,-0.3],[14.8,0.3],[15.2,0.2],[15.7,0.2],[16.3,0],[16.8,-0.5],[17.3,0.3],[17.8,-0.3],[18.8,0.3],[19.3,0],[20.2,0.3],[20.8,0.2],[21.2,0.7],[21.7,0.3],[22.2,0.2],[22.8,-0.2],[23.3,0.1],[23.8,-0.2],[24.3,0.1],[15,-0.5],[16,-1.5],[16.5,-2.2],[15.8,-2.4],[40.2,0],[40.5,0.5],[41.2,0.2],[41.8,-0.2],[42.3,0.1],[42.8,-0.3],[43.3,0.5],[43.8,0],[44.3,0.4],[44.8,-0.2],[45.2,0.4],[45.8,0.3],[46.1,0.2],[39,0.5],[38.8,-0.8],[39.8,1.2]];

// histogram bins: [bin centre, count]
var histTrainA = [[21.5,12],[16,3],[12,3],[10,10],[8.6,10],[7.2,16],[5.9,20],[4.5,14],[3.2,28],[1.8,52],[0.7,170],[-0.5,640],[-1.9,62],[-3.3,38],[-4.6,28],[-6,60],[-7.3,22],[-8.7,14],[-10,4],[-14,3]];
var histTestA = [[7.4,16],[6,25],[3.6,10],[2.2,25],[0.7,35],[-0.5,245],[-1.9,30],[-3.2,20],[-4.6,18],[-6,22],[-7.3,15],[-8.7,10],[-10,4]];
var histTrainB = [[18.4,5],[9.6,10],[8,17],[6.4,27],[4.8,78],[3.1,112],[1.5,163],[-0.2,670],[-1.9,173],[-3.5,163],[-5.2,130],[-6.8,44],[-8.5,27],[-10,20]];
var histTestB = [[6.4,10],[4.8,27],[3.1,44],[1.5,78],[-0.2,260],[-1.9,70],[-3.5,70],[-5.2,44],[-6.8,17]];
var histTrainC = [[8,15],[6.3,25],[4.7,35],[3,30],[1.2,90],[-0.3,1050],[-1.9,35],[-3.2,110],[-4.7,60],[-6.3,55],[-10,10]];
var histTestC = [[1.2,90],[-0.3,340],[-1.9,30],[-3.5,25]];

// best fit and identity ends
var fitA = [[0.2,6.3],[34.3,30.85]], fitB = [[0.2,6.74],[48.2,45.07]], fitC = [[0.1,4.18],[45.4,43.83]];
var identityA = [[0,0],[34.3,34.3]], identityB = [[0.1,0.1],[48.2,48.2]], identityC = [[0.05,0.05],[45.4,45.4]];

var errorTicksAx = [0,5,10,15,20,25,30], errorTicksAy = [0,5,10,15,20,25,30];
var errorTicksB = [10,20,30,40], errorTicksC = [10,20,30,40];
var resXTicksA = [0,5,10,15,20,25,30,35], resYTicksA = [-30,-20,-10,0,10,20,30], histTicksA = [0,500];
var resXTicksB = [10,20,30,40,50], resYTicksB = [-40,-20,0,20,40], histTicksB = [0,500];
var resXTicksC = [10,20,30,40], resYTicksC = [-30,-20,-10,0,10,20,30,40], histTicksC = [0,1000];

var blue = '#0072b2', green = '#9bc375', grid = '#d2d2d2';
var fmt = function (d) { return String(d).replace('-', '\u2212') };

var svg = d3.select('#chart').append('svg').attr('width', 3103).attr('height', 4092);

var clipCount = 0;
function makePanel(x0, y0, w, h) {
	var g = svg.append('g').attr('transform', 'translate(' + x0 + ',' + y0 + ')');
	var id = 'clip' + (++clipCount);
	g.append('clipPath').attr('id', id).append('rect').attr('width', w).attr('height', h);
	return { g: g, clip: 'url(#' + id + ')' };
}

function drawAxis(g, axis, tx, ty) {
	var a = g.append('g').attr('transform', 'translate(' + tx + ',' + ty + ')').call(axis);
	a.select('.domain').remove();
	a.selectAll('line').attr('stroke', grid).attr('stroke-width', 3.2);
	a.selectAll('text').attr('font-size', 36).attr('fill', '#3a3a3a').attr('font-family', '"Liberation Sans"');
	return a;
}

function frame(g, w, h) {
	g.append('rect').attr('width', w).attr('height', h).attr('fill', 'none').attr('stroke', grid).attr('stroke-width', 4.5);
}

function dots(g, clip, pts, x, y, color, r) {
	g.append('g').attr('clip-path', clip).selectAll('circle').data(pts).join('circle')
		.attr('cx', function (d) { return x(d[0]) }).attr('cy', function (d) { return y(d[1]) })
		.attr('r', r).attr('fill', color).attr('fill-opacity', 0.75);
}

function title(g, w, s) {
	g.append('text').attr('x', w / 2).attr('y', -34).attr('dy', '.35em').attr('text-anchor', 'middle').attr('font-size', 42).text(s);
}

function r2Text(sel, prefix, value, x, y) {
	var t = sel.append('text').attr('x', x).attr('y', y).attr('font-size', 35);
	if (prefix) t.append('tspan').text(prefix + ' ');
	t.append('tspan').attr('class', 'math').attr('font-style', 'italic').text('R');
	t.append('tspan').attr('class', 'math').attr('font-size', 25).attr('dy', -14).text('2');
	t.append('tspan').attr('class', 'math').attr('dy', 14).text((prefix ? ' = ' : '  = ') + value);
}

function drawError(o) {
	var p = makePanel(o.x0, o.y0, o.w, o.h), g = p.g;
	var x = d3.scaleLinear().domain(o.xDomain).range([0, o.w]);
	var y = d3.scaleLinear().domain(o.yDomain).range([o.h, 0]);
	drawAxis(g, d3.axisBottom(x).tickValues(o.xTicks).tickSize(-o.h).tickPadding(29).tickFormat(fmt), 0, o.h);
	drawAxis(g, d3.axisLeft(y).tickValues(o.yTicks).tickSize(-o.w).tickPadding(25).tickFormat(fmt), 0, 0);
	dots(g, p.clip, o.points, x, y, blue, 14.5);
	var line = d3.line().x(function (d) { return x(d[0]) }).y(function (d) { return y(d[1]) });
	var lines = g.append('g').attr('clip-path', p.clip);
	lines.append('path').attr('d', line(o.fit)).attr('fill', 'none').attr('stroke', '#1a1a1a').attr('stroke-width', 6).attr('stroke-dasharray', '24,10');
	lines.append('path').attr('d', line(o.identity)).attr('fill', 'none').attr('stroke', '#8a8a8a').attr('stroke-width', 6).attr('stroke-dasharray', '24,10');
	frame(g, o.w, o.h);
	title(g, o.w, 'Prediction Error for KNeighborsRegressor');
	g.append('text').attr('class', 'math').attr('font-style', 'italic').attr('font-size', 38).attr('text-anchor', 'middle')
		.attr('x', o.w / 2).attr('y', o.h + 92).attr('dy', '.25em').text('y');
	g.append('text').attr('class', 'math').attr('font-style', 'italic').attr('font-size', 38).attr('text-anchor', 'middle')
		.attr('transform', 'translate(' + (-105) + ',' + (o.h / 2) + ') rotate(-90)').attr('dy', '.25em').text('\u0177');

	var lg = g.append('g').attr('transform', 'translate(' + o.legendX + ',' + o.legendY + ')');
	lg.append('rect').attr('width', 322).attr('height', 180).attr('rx', 6).attr('fill', '#fff').attr('fill-opacity', 0.8).attr('stroke', '#e6e6e6').attr('stroke-opacity', 0.8).attr('stroke-width', 2);
	lg.append('circle').attr('cx', 48).attr('cy', 46).attr('r', 14.5).attr('fill', blue).attr('fill-opacity', 0.75);
	r2Text(lg, '', o.r2, 112, 52);
	[['best fit', '#1a1a1a', 95], ['identity', '#8a8a8a', 147]].forEach(function (row) {
		lg.append('line').attr('x1', 14).attr('x2', 78).attr('y1', row[2]).attr('y2', row[2]).attr('stroke', row[1]).attr('stroke-width', 6).attr('stroke-dasharray', '24,10');
		lg.append('text').attr('x', 112).attr('y', row[2] + 12).attr('font-size', 35).text(row[0]);
	});
}

function drawResiduals(o) {
	var p = makePanel(o.x0, o.y0, o.w, o.h), g = p.g;
	var x = d3.scaleLinear().domain(o.xDomain).range([0, o.w]);
	var y = d3.scaleLinear().domain(o.yDomain).range([o.h, 0]);
	drawAxis(g, d3.axisBottom(x).tickValues(o.xTicks).tickSize(-o.h).tickPadding(29).tickFormat(fmt), 0, o.h);
	drawAxis(g, d3.axisLeft(y).tickValues(o.yTicks).tickSize(-o.w).tickPadding(25).tickFormat(fmt), 0, 0);
	dots(g, p.clip, o.train, x, y, blue, 13.5);
	dots(g, p.clip, o.test, x, y, green, 13.5);
	g.append('line').attr('x1', 2).attr('x2', o.w).attr('y1', y(0)).attr('y2', y(0)).attr('stroke', '#111').attr('stroke-width', 6.5);
	frame(g, o.w, o.h);
	title(g, o.w, 'Residuals for KNeighborsRegressor Model');
	g.append('text').attr('x', o.w / 2).attr('y', o.h + 87).attr('dy', '.35em').attr('text-anchor', 'middle').attr('font-size', 38).text('Predicted Value');
	g.append('text').attr('transform', 'translate(-120,' + (o.h / 2) + ') rotate(-90)').attr('dy', '.35em').attr('text-anchor', 'middle').attr('font-size', 38).text('Residuals');

	var lg = g.append('g').attr('transform', 'translate(16,15)');
	lg.append('rect').attr('width', 400).attr('height', 138).attr('rx', 6).attr('fill', '#fff').attr('fill-opacity', 0.8).attr('stroke', '#e6e6e6').attr('stroke-opacity', 0.8).attr('stroke-width', 2);
	lg.append('rect').attr('x', 13).attr('y', 30).attr('width', 72).attr('height', 26).attr('fill', blue);
	lg.append('rect').attr('x', 13).attr('y', 94).attr('width', 72).attr('height', 26).attr('fill', green);
	r2Text(lg, 'Train', o.trainR2, 114, 55);
	r2Text(lg, 'Test', o.testR2, 114, 119);

	// side histogram shares the residual scale
	var ph = makePanel(o.hx0, o.y0, o.hw, o.h), gh = ph.g;
	var hx = d3.scaleLinear().domain(o.histDomain).range([0, o.hw]);
	gh.append('g').selectAll('line').data(o.yTicks).join('line').attr('x1', 0).attr('x2', o.hw)
		.attr('y1', function (d) { return y(d) }).attr('y2', function (d) { return y(d) }).attr('stroke', grid).attr('stroke-width', 3.2);
	var band = Math.abs(y(0) - y(o.binWidth));
	[[o.histTrain, blue], [o.histTest, green]].forEach(function (s) {
		gh.append('g').selectAll('rect').data(s[0]).join('rect')
			.attr('x', hx(0)).attr('width', function (d) { return hx(d[1]) - hx(0) })
			.attr('y', function (d) { return y(d[0]) - band / 2 }).attr('height', band).attr('fill', s[1]);
	});
	gh.append('line').attr('x1', 0).attr('x2', o.hw).attr('y1', y(0)).attr('y2', y(0)).attr('stroke', '#111').attr('stroke-width', 6.5);
	frame(gh, o.hw, o.h);
	var right = gh.append('g').attr('transform', 'translate(' + o.hw + ',0)').call(d3.axisRight(y).tickValues(o.yTicks).tickSize(0).tickPadding(24).tickFormat(fmt));
	right.select('.domain').remove();
	right.selectAll('text').attr('font-size', 36).attr('fill', '#3a3a3a').attr('font-family', '"Liberation Sans"');
	var bottom = gh.append('g').attr('transform', 'translate(0,' + o.h + ')').call(d3.axisBottom(hx).tickValues(o.histTicks).tickSize(0).tickPadding(29).tickFormat(fmt));
	bottom.select('.domain').remove();
	bottom.selectAll('text').attr('font-size', 36).attr('fill', '#3a3a3a').attr('font-family', '"Liberation Sans"');
	gh.append('text').attr('x', o.hw / 2).attr('y', o.h + 87).attr('dy', '.35em').attr('text-anchor', 'middle').attr('font-size', 38).text('Distribution');
}

drawError({ x0: 170, y0: 146, w: 1076, h: 1075, xDomain: [0, 34.25], yDomain: [0, 34.35], xTicks: errorTicksAx, yTicks: errorTicksAy,
	points: errorA, fit: fitA, identity: identityA, r2: '0.645', legendX: 731, legendY: 877 });
drawError({ x0: 186, y0: 1535, w: 1053, h: 1057, xDomain: [0.04, 48.2], yDomain: [0.09, 48.3], xTicks: errorTicksB, yTicks: errorTicksB,
	points: errorB.concat(errorDenseB), fit: fitB, identity: identityB, r2: '0.778', legendX: 719, legendY: 860 });
drawError({ x0: 172, y0: 2889, w: 1077, h: 1077, xDomain: [0, 45.35], yDomain: [0.08, 45.45], xTicks: errorTicksC, yTicks: errorTicksC,
	points: errorC.concat(errorDenseC), fit: fitC, identity: identityC, r2: '0.861', legendX: 20, legendY: 17 });

drawResiduals({ x0: 1437, y0: 156, w: 1287, h: 1071, xDomain: [-1.62, 35.9], yDomain: [-37.7, 37.8], xTicks: resXTicksA, yTicks: resYTicksA,
	train: trainA.concat(trainDenseA), test: testA.concat(testDenseA), trainR2: '0.823', testR2: '0.645', hx0: 2749, hw: 253, histDomain: [-6, 675], histTicks: histTicksA,
	histTrain: histTrainA, histTest: histTestA, binWidth: 1.36 });
drawResiduals({ x0: 1453, y0: 1518, w: 1257, h: 1045, xDomain: [0.32, 50.5], yDomain: [-41.4, 50.2], xTicks: resXTicksB, yTicks: resYTicksB,
	train: trainB.concat(trainDenseB), test: testB.concat(testDenseB), trainR2: '0.843', testR2: '0.778', hx0: 2733, hw: 247, histDomain: [-7, 704], histTicks: histTicksB,
	histTrain: histTrainB, histTest: histTestB, binWidth: 1.66 });
drawResiduals({ x0: 1451, y0: 2889, w: 1279, h: 1063, xDomain: [0.36, 47.5], yDomain: [-38.2, 48.2], xTicks: resXTicksC, yTicks: resYTicksC,
	train: trainC.concat(trainDenseC), test: testC.concat(testDenseC), trainR2: '0.893', testR2: '0.861', hx0: 2755, hw: 251, histDomain: [-10, 1110], histTicks: histTicksC,
	histTrain: histTrainC, histTest: histTestC, binWidth: 1.57 });

// panel letters
[['a', 40], ['b', 1404], ['c', 2773]].forEach(function (d) {
	var t = svg.append('text').attr('x', 20).attr('y', d[1]).attr('dy', '.33em').attr('font-size', 66).style('font-family', '"Liberation Serif", serif').style('fill', '#111');
	t.append('tspan').text('(');
	t.append('tspan').attr('font-weight', 'bold').text(d[0]);
	t.append('tspan').text(')');
});
</script>
</body>
</html>
